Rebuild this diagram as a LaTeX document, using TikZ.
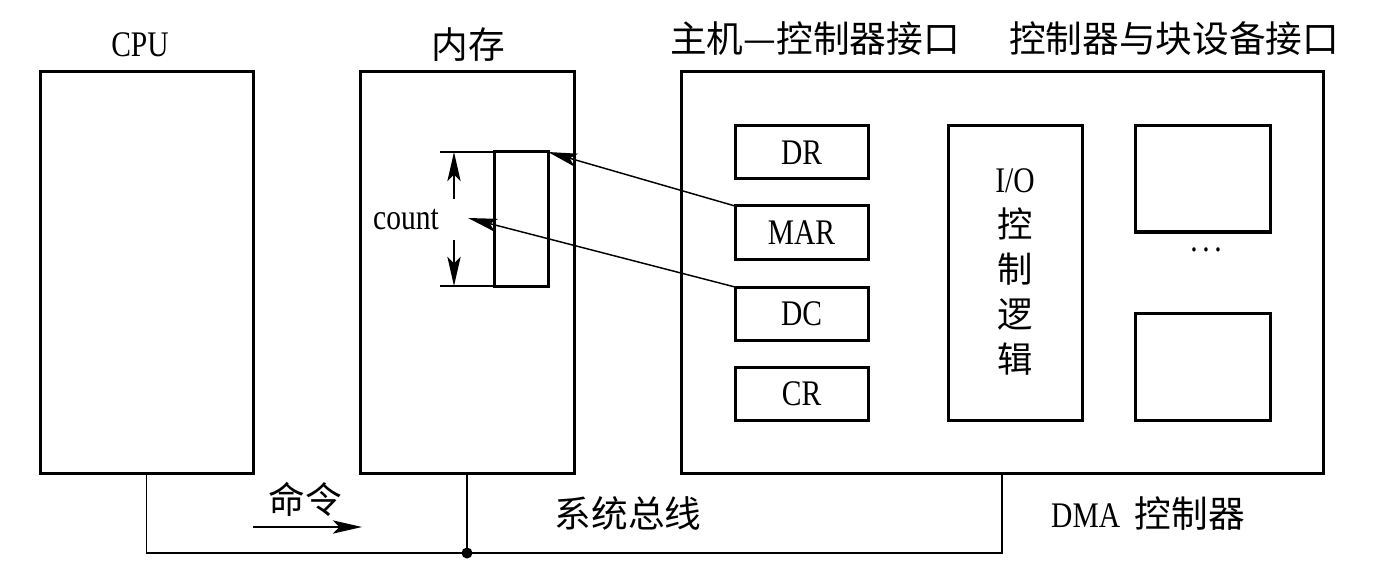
\documentclass[tikz,border=0pt]{standalone}
\usepackage{fontspec}
\setmainfont{Liberation Serif}[FakeStretch=0.82]
\newfontfamily\cjk{Noto Sans CJK SC}
\usetikzlibrary{arrows.meta}
\tikzset{
  px/.style={x=0.75pt,y=-0.75pt},
  box/.style={draw,line width=2.25pt,inner sep=0pt,outer sep=0pt,rectangle},
  thin line/.style={line width=1.1pt},
  tip/.style={-{Stealth[length=22pt,width=10pt,inset=5pt]},line width=1.1pt},
  lat/.style={font=\fontsize{27}{30}\selectfont,inner sep=0pt},
  han/.style={font=\cjk\fontsize{27.5}{30}\selectfont,inner sep=0pt},
}
\begin{document}
\begin{tikzpicture}[px]
\useasboundingbox (0,0) rectangle (1376,577);
% main boxes
\node[box,minimum width=213*0.75pt,minimum height=401*0.75pt] (cpu) at (146.5,272.5) {};
\node[box,minimum width=214*0.75pt,minimum height=401*0.75pt] (mem) at (467,272.5) {};
\node[box,minimum width=642*0.75pt,minimum height=401*0.75pt] (dma) at (1002,272.5) {};
% registers
\node[box,lat,minimum width=133*0.75pt,minimum height=53*0.75pt] (dr) at (801.5,152.5) {DR};
\node[box,lat,minimum width=133*0.75pt,minimum height=53*0.75pt] (mar) at (801.5,232.5) {MAR};
\node[box,lat,minimum width=133*0.75pt,minimum height=53*0.75pt] (dc) at (801.5,313.5) {DC};
\node[box,lat,minimum width=133*0.75pt,minimum height=53*0.75pt] (cr) at (801.5,393.5) {CR};
% I/O control logic
\node[box,minimum width=134*0.75pt,minimum height=294*0.75pt] (io) at (1015,273) {};
\node[align=center,inner sep=0pt,font=\fontsize{27}{33.75}\selectfont] (iotext) at (1015,272)
  {I/O\\{\cjk\fontsize{26.5}{33.75}\selectfont 控}\\{\cjk\fontsize{26.5}{33.75}\selectfont 制}\\{\cjk\fontsize{26.5}{33.75}\selectfont 逻}\\{\cjk\fontsize{26.5}{33.75}\selectfont 辑}};
% device interfaces
\node[box,minimum width=135*0.75pt,minimum height=106*0.75pt] (dev1) at (1202.5,179) {};
\node[box,minimum width=135*0.75pt,minimum height=107*0.75pt] (dev2) at (1202.5,366.5) {};
\node[lat] (dots) at (1206,250) {.\hspace{3.5pt}.\hspace{3.5pt}.};
% memory block
\node[box,minimum width=54*0.75pt,minimum height=134*0.75pt] (cnt) at (521,219) {};
\coordinate (dimT) at (440,152);
\coordinate (dimB) at (440,286);
\draw[thin line] (dimT) -- (cnt.north west);
\draw[thin line] (dimB) -- (cnt.south west);
\coordinate (upS) at (454,199);
\coordinate (upE) at (454,152);
\coordinate (dnS) at (454,240);
\coordinate (dnE) at (454,286);
\draw[tip] (upS) -- (upE);
\draw[tip] (dnS) -- (dnE);
\node[lat] (count) at (406,220) {count};
\coordinate (dctip) at (468,218);
\draw[tip] (mar.north west) -- (cnt.north east);
\draw[tip] (dc.north west) -- (dctip);
% titles
\node[lat] (tcpu) at (140,45) {CPU};
\node[han] (tmem) at (468,45) {内存};
\node[han] (thost) at (815,39) {主机—控制器接口};
\node[han] (tdev) at (1174,39) {控制器与块设备接口};
% bus
\coordinate (bj) at (467,553);
\draw[thin line] (cpu.south) |- (bj) -| (dma.south);
\draw[thin line] (mem.south) -- (bj);
\fill (bj) circle (5.5);
\coordinate (cmdA) at (253,527);
\coordinate (cmdB) at (362,527);
\draw[tip] (cmdA) -- (cmdB);
\node[han] (cmd) at (305,499) {命令};
\node[han] (bus) at (628,513) {系统总线};
\node[inner sep=0pt] (dmal) at (1148,514) {\fontsize{27}{30}\selectfont DMA\ \ {\cjk\fontsize{27.5}{30}\selectfont 控制器}};
\end{tikzpicture}
\end{document}
